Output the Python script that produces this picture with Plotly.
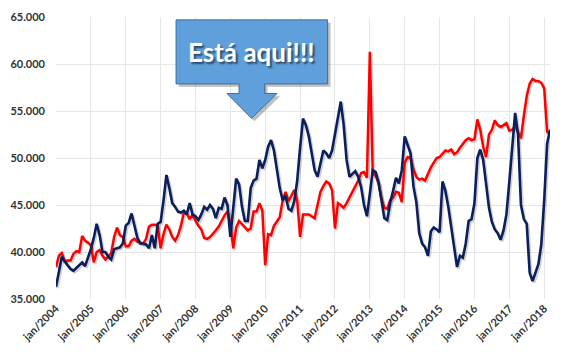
import numpy as np
import plotly.graph_objects as go

# ---- data (values in thousands) ----
month_names = ["jan", "fev", "mar", "abr", "mai", "jun", "jul", "ago", "set", "out", "nov", "dez"]
years = list(range(2004, 2019))
categories = [f"{m}/{y}" for y in years for m in month_names][:171]  # jan/2004 .. mar/2018

navy_k = [
    36.3, 38.0, 39.5, 39.0, 38.6, 38.2, 38.0, 38.3, 38.6, 38.9, 38.5, 39.3,   # 2004
    40.3, 41.5, 43.0, 41.8, 40.0, 40.0, 39.5, 39.2, 40.3, 40.4, 40.5, 40.9,   # 2005
    42.8, 43.1, 44.1, 42.8, 41.5, 40.9, 40.9, 40.8, 40.4, 41.8, 40.4, 43.0,   # 2006
    43.2, 45.5, 48.2, 46.8, 45.2, 44.8, 44.3, 44.2, 44.4, 44.0, 45.2, 44.0,   # 2007
    43.8, 43.4, 44.0, 44.8, 44.5, 45.0, 44.6, 43.6, 44.7, 44.6, 45.8, 45.0,   # 2008
    41.6, 44.7, 47.8, 47.2, 44.8, 43.3, 43.3, 46.8, 47.6, 47.8, 49.8, 48.9,   # 2009
    49.8, 51.2, 51.9, 50.8, 48.8, 46.8, 45.5, 46.0, 44.6, 44.4, 45.4, 47.6,   # 2010
    51.1, 54.2, 53.5, 52.3, 50.5, 48.7, 48.0, 49.5, 50.8, 50.5, 50.0, 50.8,   # 2011
    52.5, 54.5, 56.0, 53.5, 49.8, 48.0, 48.3, 48.6, 48.0, 46.9, 45.0, 43.8,   # 2012
    46.2, 48.7, 48.5, 47.4, 45.5, 43.6, 43.4, 45.3, 46.5, 47.9, 47.3, 48.7,   # 2013
    52.3, 51.5, 50.5, 47.0, 45.3, 42.0, 40.9, 40.5, 39.6, 42.2, 42.6, 42.4,   # 2014
    42.1, 47.5, 46.5, 44.8, 42.5, 40.2, 38.4, 39.6, 39.4, 40.9, 43.3, 43.5,   # 2015
    45.2, 50.0, 50.9, 49.8, 47.0, 44.7, 43.2, 42.4, 42.0, 41.3, 42.3, 44.0,   # 2016
    47.5, 51.4, 54.8, 52.5, 45.0, 43.5, 43.0, 37.8, 36.9, 37.8, 38.7, 40.8,   # 2017
    45.5, 51.5, 53.0,                                                         # 2018
]

red_k = [
    38.4, 39.6, 39.9, 39.0, 39.1, 39.1, 39.8, 40.1, 40.0, 41.7, 41.2, 41.0,   # 2004
    40.7, 38.9, 40.0, 40.2, 39.6, 39.2, 39.5, 39.9, 41.6, 42.6, 41.8, 41.6,   # 2005
    40.6, 40.6, 41.2, 41.4, 41.1, 41.0, 40.9, 41.4, 42.7, 42.9, 42.9, 42.8,   # 2006
    40.4, 41.9, 42.9, 42.4, 41.6, 41.2, 41.8, 42.8, 44.2, 44.1, 43.5, 44.0,   # 2007
    43.3, 42.8, 42.4, 41.5, 41.4, 41.6, 41.9, 42.3, 42.7, 43.3, 43.9, 44.3,   # 2008
    43.0, 40.4, 42.6, 43.3, 43.0, 42.6, 42.3, 42.5, 44.3, 44.3, 45.2, 44.4,   # 2009
    38.6, 41.9, 41.8, 42.8, 43.3, 43.7, 45.5, 46.4, 45.4, 46.0, 46.6, 45.5,   # 2010
    41.6, 44.0, 44.0, 44.0, 43.8, 43.6, 45.0, 46.4, 47.0, 47.5, 47.3, 46.6,   # 2011
    42.5, 45.2, 45.0, 44.7, 45.2, 45.8, 46.3, 47.0, 47.6, 48.4, 48.5, 47.9,   # 2012
    61.3, 48.4, 48.1, 47.3, 45.7, 44.7, 44.6, 45.5, 45.8, 46.4, 46.3, 45.3,   # 2013
    49.5, 50.1, 50.0, 48.8, 48.0, 47.7, 47.8, 47.6, 48.4, 49.0, 49.5, 50.0,   # 2014
    50.1, 50.4, 50.8, 50.7, 50.9, 50.4, 50.6, 51.1, 51.5, 51.9, 52.1, 51.9,   # 2015
    52.0, 54.1, 53.0, 51.2, 50.1, 52.5, 53.0, 54.0, 53.5, 53.3, 53.5, 53.7,   # 2016
    52.9, 53.0, 53.4, 52.8, 52.1, 54.5, 56.6, 57.9, 58.4, 58.2, 58.2, 58.0,   # 2017
    57.4, 52.8, 52.5,                                                         # 2018
]

tick_labels = [f"jan/{y}" for y in years]
y_ticks_k = [35, 40, 45, 50, 55, 60, 65]

callout_text = "Está aqui!!!"

# ---- figure ----
x = np.arange(len(categories))
navy = np.array(navy_k) * 1000
red = np.array(red_k) * 1000

NAVY = "#0b1f5c"
RED = "#ff0000"

fig = go.Figure()

# soft drop shadows (same data, nudged ~1.5 px)
for vals in (red, navy):
    fig.add_trace(go.Scatter(x=x + 0.5, y=vals - 160, mode="lines",
                             line=dict(color="rgba(0,0,0,0.18)", width=2.8),
                             hoverinfo="skip", showlegend=False))

fig.add_trace(go.Scatter(x=x, y=red, mode="lines", line=dict(color=RED, width=2.5),
                         customdata=categories, hovertemplate="%{customdata}: %{y}<extra></extra>",
                         showlegend=False))
fig.add_trace(go.Scatter(x=x, y=navy, mode="lines", line=dict(color=NAVY, width=2.6),
                         customdata=categories, hovertemplate="%{customdata}: %{y}<extra></extra>",
                         showlegend=False))

W, H = 566, 353
ML, MR, MT, MB = 48, 16, 10, 48
PW, PH = W - ML - MR, H - MT - MB


def px(xp):
    return (xp - ML) / PW


def py(yp):
    return (H - MB - yp) / PH


def path(points):
    s = "M " + " L ".join(f"{px(a):.5f},{py(b):.5f}" for a, b in points) + " Z"
    return s


callout = [(170, 13), (324, 13), (324, 80), (260, 80), (260, 90), (272.7, 90),
           (246.7, 116), (221.7, 90), (234, 90), (234, 80), (170, 80)]
shadow = [(a + 3, b + 3) for a, b in callout]

fig.add_shape(type="path", xref="paper", yref="paper", path=path(shadow),
              fillcolor="rgba(0,0,0,0.25)", line=dict(width=0), layer="above")
fig.add_shape(type="path", xref="paper", yref="paper", path=path(callout),
              fillcolor="#5f9fdb", line=dict(color="#3f6f9f", width=1), layer="above")

fig.add_annotation(x=px(247), y=py(47), xref="paper", yref="paper", text=callout_text,
                   showarrow=False, xanchor="center", yanchor="middle",
                   font=dict(family="Lato", size=26, color="white", weight="bold",
                             shadow="2px 2px 2px rgba(0,0,0,0.55)"))

tick_font = dict(family="Lato", size=11, color="#333333", weight="bold")

fig.update_xaxes(range=[0, len(categories) - 1], tickmode="array",
                 tickvals=[i for i, c in enumerate(categories) if c.startswith("jan/")],
                 ticktext=tick_labels, tickangle=-45, tickfont=tick_font,
                 showgrid=True, gridcolor="#e6e6e6", gridwidth=1,
                 showline=False, zeroline=False, ticks="")
fig.update_yaxes(range=[35000, 65000], tickmode="array",
                 tickvals=[v * 1000 for v in y_ticks_k], tickformat=",.0f",
                 tickfont=tick_font, showgrid=True, gridcolor="#e6e6e6", gridwidth=1,
                 showline=False, zeroline=False, ticks="", ticklabelstandoff=10)

fig.update_layout(width=W, height=H, margin=dict(l=ML, r=MR, t=MT, b=MB),
                  paper_bgcolor="white", plot_bgcolor="white", separators=",.",
                  showlegend=False)

fig.write_html("out.html")
